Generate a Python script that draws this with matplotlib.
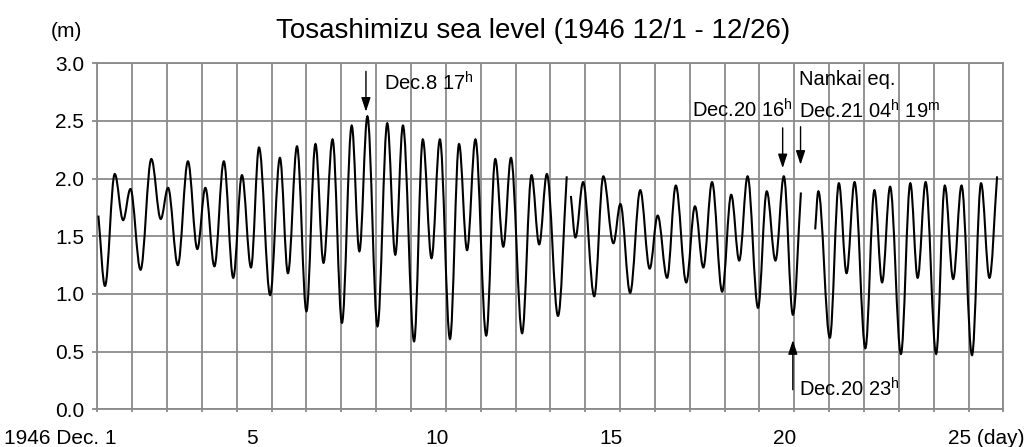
import numpy as np
import matplotlib
matplotlib.use("Agg")
import matplotlib.pyplot as plt
from matplotlib.path import Path
from matplotlib.patches import PathPatch

plt.rcParams['font.family'] = ['Liberation Sans', 'DejaVu Sans']
plt.rcParams['mathtext.fontset'] = 'custom'
plt.rcParams['mathtext.rm'] = 'Liberation Sans'

# sea level turning points (day since Dec.1 00h, metres)
# the record has two gaps, so three pieces
seg1_day = [0.03, 0.22, 0.50, 0.74, 0.95, 1.24, 1.55, 1.82, 2.03, 2.31, 2.60, 2.87,
            3.10, 3.36, 3.63, 3.90, 4.15, 4.41, 4.64, 4.96, 5.24, 5.47, 5.73, 6.00,
            6.26, 6.49, 6.75, 7.02, 7.30, 7.52, 7.75, 8.04, 8.32, 8.55, 8.77, 9.09,
            9.34, 9.59, 9.83, 10.12, 10.38, 10.61, 10.85, 11.16, 11.42, 11.65, 11.87,
            12.19, 12.46, 12.68, 12.90, 13.22, 13.47]
seg1_level = [1.68, 1.07, 2.04, 1.64, 1.91, 1.21, 2.17, 1.65, 1.92, 1.25, 2.15, 1.39,
              1.92, 1.24, 2.15, 1.14, 2.03, 1.23, 2.27, 0.99, 2.18, 1.18, 2.28, 0.85,
              2.30, 1.27, 2.34, 0.75, 2.46, 1.37, 2.54, 0.72, 2.48, 1.34, 2.46, 0.59,
              2.34, 1.31, 2.34, 0.61, 2.30, 1.38, 2.34, 0.64, 2.17, 1.41, 2.18,
              0.66, 2.03, 1.43, 2.04, 0.81, 2.02]

seg2_day = [13.59, 13.72, 13.94, 14.26, 14.52, 14.81, 15.01, 15.29, 15.58, 15.85,
            16.08, 16.35, 16.60, 16.90, 17.15, 17.39, 17.64, 17.93, 18.19, 18.42,
            18.66, 18.96, 19.21, 19.46, 19.70, 19.96, 20.19]
seg2_level = [1.85, 1.49, 1.97, 0.98, 2.02, 1.44, 1.78, 1.01, 1.90, 1.22,
              1.68, 1.14, 1.94, 1.10, 1.76, 1.23, 1.97, 1.02, 1.86, 1.29,
              2.02, 0.88, 1.89, 1.29, 2.02, 0.82, 1.88]

seg3_day = [20.60, 20.69, 21.02, 21.28, 21.50, 21.73, 22.04, 22.30, 22.52, 22.75,
            23.06, 23.33, 23.54, 23.77, 24.07, 24.32, 24.56, 24.80, 25.10, 25.36,
            25.60, 25.82]
seg3_level = [1.56, 1.89, 0.62, 1.96, 1.18, 1.97, 0.53, 1.90, 1.10, 1.93,
              0.48, 1.96, 1.14, 1.97, 0.48, 1.94, 1.13, 1.94, 0.47, 1.96,
              1.14, 2.02]

day_labels = ["1946 Dec. 1", "5", "10", "15", "20", "25 (day)"]
day_label_pos = [1, 5, 10, 15, 20, 25]
yticks = [0.0, 0.5, 1.0, 1.5, 2.0, 2.5, 3.0]

# marked events (day, level)
ev_peak = (7 + 17 / 24, 2.54)
ev_before = (19 + 16 / 24, 2.02)
ev_quake = 20 + (4 + 19 / 60) / 24
ev_low = (19 + 23 / 24, 0.82)


def smooth_path(xs, ys, k=0.36):
    # bezier through turning points, flat at the extremes
    verts = [(xs[0], ys[0])]
    codes = [Path.MOVETO]
    n = len(xs)
    for i in range(n - 1):
        x0, y0, x1, y1 = xs[i], ys[i], xs[i + 1], ys[i + 1]
        dx, dy = x1 - x0, y1 - y0
        c1 = (x0 + k * dx, y0 + k * dy) if i == 0 else (x0 + k * dx, y0)
        c2 = (x1 - k * dx, y1 - k * dy) if i == n - 2 else (x1 - k * dx, y1)
        verts += [c1, c2, (x1, y1)]
        codes += [Path.CURVE4] * 3
    return Path(verts, codes)


fig = plt.figure(figsize=(10.31, 4.47), dpi=100)
ax = fig.add_axes([0.0944, 0.0843, 0.8788, 0.7741])

grey = '#8a8a8a'
for d, lv in [(seg1_day, seg1_level), (seg2_day, seg2_level), (seg3_day, seg3_level)]:
    ax.add_patch(PathPatch(smooth_path(d, lv), fill=False, lw=1.5, ec='black', zorder=3))

ax.set_xlim(0, 26)
ax.set_ylim(0, 3.0)
ax.set_xticks(np.arange(0, 27))
ax.set_xticklabels([])
ax.set_yticks(yticks)
ax.set_yticklabels(['%.1f' % v for v in yticks], fontsize=15)
ax.grid(True, color=grey, lw=1.3)
ax.set_axisbelow(True)
for s in ax.spines.values():
    s.set_color(grey)
    s.set_linewidth(1.3)
ax.tick_params(axis='y', length=3.5, width=1.3, color=grey, pad=6)
ax.tick_params(axis='x', length=2, width=1.3, color=grey)

xt = ax.get_xaxis_transform()
for lab, p in zip(day_labels, day_label_pos):
    if p == 1:
        ax.text(0.56, -0.083, lab, transform=xt, ha='right', va='center', fontsize=15)
    elif p == 5:
        ax.text(p - 0.73, -0.083, lab, transform=xt, ha='left', va='center', fontsize=15)
    else:
        ax.text(p - 0.6, -0.083, lab, transform=xt, ha='left', va='center', fontsize=15)

fig.text(0.0647, 0.929, '(m)', ha='center', va='center', fontsize=15)
fig.text(0.517, 0.914, 'Tosashimizu sea level (1946 12/1 - 12/26)',
         ha='center', va='baseline', fontsize=20)

arrow = dict(arrowstyle='-|>,head_length=0.85,head_width=0.28', color='black',
             lw=1.0, shrinkA=0, shrinkB=0)

ax.annotate('', xy=(ev_peak[0], 2.58), xytext=(ev_peak[0], 2.93), arrowprops=arrow)
ax.text(8.23, 2.83, r'Dec.8 17$^{\rm h}$', ha='left', va='center', fontsize=14.5)

ax.annotate('', xy=(ev_before[0], 2.09), xytext=(ev_before[0], 2.44), arrowprops=arrow)
ax.text(19.96, 2.60, r'Dec.20 16$^{\rm h}$', ha='right', va='center', fontsize=14.5)

ax.annotate('', xy=(ev_quake, 2.12), xytext=(ev_quake, 2.45), arrowprops=arrow)
ax.text(20.13, 2.86, 'Nankai eq.', ha='left', va='center', fontsize=14.5)
ax.text(20.13, 2.59, r'Dec.21 04$^{\rm h}$ 19$^{\rm m}$', ha='left', va='center', fontsize=14.5)

ax.annotate('', xy=(ev_low[0], 0.60), xytext=(ev_low[0], 0.17), arrowprops=arrow)
ax.text(20.13, 0.18, r'Dec.20 23$^{\rm h}$', ha='left', va='center', fontsize=14.5)

fig.savefig('out.png', dpi=100)
